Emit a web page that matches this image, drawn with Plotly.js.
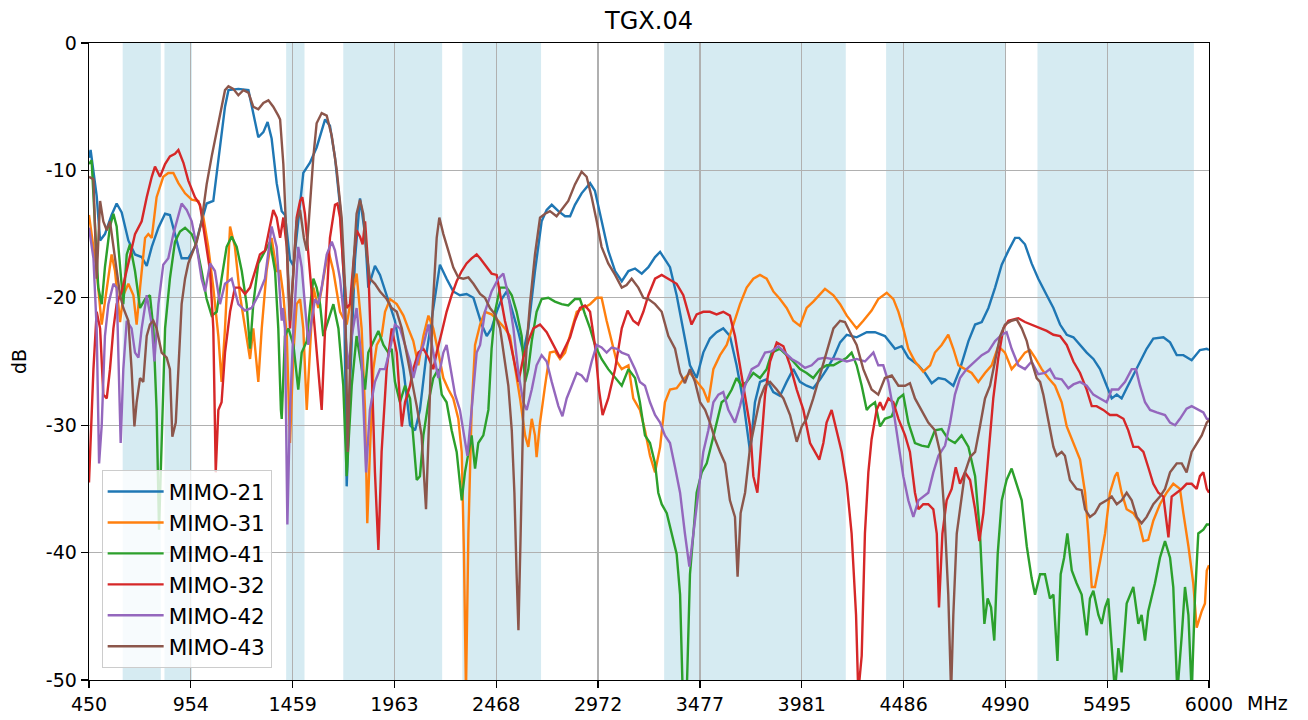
<!DOCTYPE html>
<html><head><meta charset="utf-8">
<script src="https://cdn.plot.ly/plotly-3.0.1.min.js"></script>
<style>html,body{margin:0;padding:0;background:#fff}#chart{width:1308px;height:720px}</style>
</head><body><div id="chart"></div>
<script>
const seriesNames = ["MIMO-21","MIMO-31","MIMO-41","MIMO-32","MIMO-42","MIMO-43"];
const seriesColors = ["#1f77b4","#ff7f0e","#2ca02c","#d62728","#9467bd","#8c564b"];
const bandStartMHz = [617,824,1427,1710,2300,3300,4400,5150];
const bandEndMHz = [806,960,1518,2200,2690,4200,4990,5925];
const xTickVals = [450,954.5,1459.1,1963.6,2468.2,2972.7,3477.3,3981.8,4486.4,4990.9,5495.5,6000];
const xTickText = ["450","954","1459","1963","2468","2972","3477","3981","4486","4990","5495","6000"];
const yTickVals = [0,-10,-20,-30,-40,-50];
const yTickText = ["0","-10","-20","-30","-40","-50"];

// MIMO-21
const f21 = [450,458,488,505,529,562,587,612,645,678,
711,736,761,794,827,851,876,909,942,975,
1008,1033,1066,1091,1124,1141,1190,1240,1264,1289,
1314,1335,1355,1380,1405,1421,1446,1463,1487,1512,
1545,1578,1620,1644,1669,1694,1714,1727,1743,1768,
1793,1818,1834,1867,1892,1925,1966,2008,2041,2066,
2090,2123,2156,2189,2222,2255,2288,2321,2355,2396,
2421,2445,2470,2495,2520,2545,2578,2602,2627,2660,
2693,2718,2743,2776,2809,2834,2858,2891,2933,2957,
2990,3023,3057,3090,3123,3156,3189,3222,3255,3280,
3313,3329,3362,3395,3428,3461,3494,3527,3560,3593,
3626,3659,3693,3726,3750,3775,3808,3841,3874,3907,
3940,3973,4006,4039,4073,4106,4139,4172,4205,4254,
4304,4345,4394,4444,4477,4510,4560,4593,4626,4659,
4692,4733,4766,4808,4841,4874,4907,4940,4973,5006,
5039,5059,5088,5121,5154,5196,5229,5262,5295,5328,
5361,5394,5427,5460,5493,5518,5543,5567,5592,5625,
5658,5691,5724,5774,5807,5840,5873,5914,5955,5989,
6000];
const db21 = [-9.0,-8.4,-12,-15.5,-15,-13.5,-12.6,-13.3,-15.5,-16.6,
-16.8,-17.5,-16,-14.5,-13.4,-13.5,-15,-16.9,-16.9,-16,
-14,-12.6,-12.4,-9,-5,-3.7,-3.6,-3.7,-5.5,-7.4,
-7,-6.2,-7.5,-11,-13.2,-13.5,-17,-17.5,-14,-10.2,
-9.4,-8.2,-6,-6.5,-9,-12.8,-19,-34.8,-27,-17,
-12.2,-15,-19.2,-17.5,-18.2,-19.8,-21.8,-25.6,-30,-30.4,
-28.8,-24.3,-20.8,-17.4,-18.5,-19.5,-19.8,-19.7,-20,-22.1,
-23,-22.4,-21.1,-20.1,-19.5,-20.8,-22.7,-24.3,-22.4,-17.9,
-14,-13.1,-12.7,-13.2,-13.6,-13.6,-12.7,-11.8,-11,-11.6,
-14,-16.3,-17.9,-18.7,-17.9,-17.7,-18.1,-17.6,-16.8,-16.4,
-17.2,-17.6,-19.8,-22.7,-25.3,-26.3,-24.3,-23.2,-22.7,-22.4,
-23,-25.3,-28.2,-32.1,-28.2,-26.6,-26.4,-27.4,-27.7,-26.6,
-25.6,-26.6,-26.9,-27.1,-26.4,-25.6,-24.7,-23.5,-22.9,-23.1,
-22.7,-22.7,-23,-24,-23.8,-24.7,-25.3,-25.9,-26.7,-26.3,
-26.4,-26.9,-25.6,-23.4,-22.1,-21.9,-20.8,-19.2,-17.4,-16.3,
-15.3,-15.3,-15.8,-17.3,-18.5,-19.8,-20.8,-22.1,-22.9,-23.1,
-23.7,-24.3,-24.8,-25.6,-26.9,-27.9,-27.6,-27.9,-27.1,-26.1,
-25,-24,-23.2,-23.1,-23.5,-24.5,-24.5,-24.9,-24.1,-24,
-24.1];

// MIMO-31
const f31 = [450,488,513,538,562,579,604,620,645,670,
686,703,728,744,761,785,818,843,868,893,
926,959,992,1017,1041,1066,1091,1107,1124,1149,
1173,1198,1223,1248,1264,1289,1306,1330,1355,1380,
1397,1413,1430,1446,1463,1479,1496,1512,1529,1545,
1562,1586,1611,1636,1661,1694,1727,1752,1776,1801,
1818,1829,1842,1859,1876,1900,1917,1942,1975,2008,
2032,2057,2082,2107,2132,2156,2181,2206,2231,2255,
2280,2297,2308,2318,2330,2346,2363,2388,2412,2445,
2478,2511,2536,2561,2586,2611,2627,2644,2660,2668,
2685,2710,2734,2759,2784,2809,2842,2867,2900,2933,
2966,2990,3015,3040,3065,3090,3123,3147,3180,3205,
3230,3255,3280,3304,3329,3362,3395,3428,3461,3494,
3519,3544,3577,3610,3643,3676,3709,3742,3775,3808,
3841,3874,3907,3940,3973,4006,4039,4073,4097,4139,
4172,4205,4254,4287,4328,4361,4403,4436,4461,4485,
4510,4543,4584,4618,4642,4675,4708,4733,4758,4791,
4824,4857,4890,4923,4956,4989,5022,5055,5088,5113,
5138,5171,5204,5237,5270,5295,5328,5361,5386,5402,
5419,5435,5460,5485,5509,5534,5546,5567,5592,5625,
5650,5675,5699,5724,5757,5790,5823,5856,5873,5898,
5922,5939,5964,5980,5989,6000];
const db31 = [-13.5,-17.9,-22.1,-19.2,-16.6,-17.9,-21.9,-19.8,-18.9,-19.8,
-22.1,-19.2,-15.3,-15,-15.3,-12.1,-10.5,-10.2,-10.2,-11,
-11.8,-12.3,-12.4,-13.7,-16,-19.2,-23,-26.6,-22.4,-14.4,
-16,-19.8,-22.4,-24.8,-22.4,-26.6,-22.4,-17.9,-15.3,-17.9,
-17.9,-19.8,-23,-31.4,-24.3,-20.5,-20.1,-22.4,-28.8,-24.3,
-19.2,-20.8,-18.5,-16.3,-17.9,-21.1,-22.1,-19.8,-18.1,-22.4,
-28.8,-37.7,-32.1,-25.6,-23.7,-23.0,-21.1,-20.1,-20.5,-21.4,
-22.4,-23.4,-25.3,-23.0,-21.4,-22.4,-24.3,-26.3,-27.2,-27.9,
-29.5,-32.1,-40.1,-51,-38.5,-28.8,-23.7,-22.1,-21.1,-21.3,
-21.8,-22.4,-23.0,-25.3,-27.9,-30.8,-31.7,-29.5,-30.8,-32.5,
-29.8,-26.9,-24.3,-24.2,-24.8,-24.3,-22.4,-21.1,-20.8,-20.5,
-20,-20,-21.8,-23.4,-25,-25.6,-25.3,-27.9,-28.8,-30.4,
-32.4,-33.7,-31.7,-28.2,-27.2,-27.1,-26.4,-25.9,-26.6,-27.2,
-28.2,-25.6,-24.5,-23.7,-22.1,-20.5,-19.2,-18.5,-18.2,-18.5,
-19.5,-20.1,-20.8,-21.8,-22.2,-20.8,-20.3,-19.7,-19.3,-19.8,
-20.5,-21.4,-22.4,-21.8,-21,-20.1,-19.6,-20.1,-21.1,-22.4,
-24,-25,-25.8,-25.3,-24.3,-23.7,-22.9,-24,-25.3,-25.6,
-25.9,-26.6,-25.9,-25.3,-23.8,-24.3,-25.6,-25,-24.3,-24.1,
-24.7,-25.6,-26.3,-26.9,-28.2,-30.1,-31.4,-32.7,-35.3,-38.5,
-42.7,-42.7,-40.7,-38.5,-35.3,-34,-33.7,-35.3,-36.6,-36.9,
-37.5,-39.1,-39,-37.5,-36.2,-35.3,-34.6,-35,-36.9,-39.5,
-42.4,-45.9,-44.6,-44,-41.4,-41];

// MIMO-41
const f41 = [450,463,480,496,513,529,554,571,587,604,
620,637,653,678,703,728,752,769,785,797,
810,827,851,876,901,926,959,984,1008,1033,
1058,1083,1107,1132,1157,1182,1207,1231,1248,1264,
1289,1322,1347,1372,1388,1401,1405,1421,1438,1463,
1487,1504,1529,1545,1562,1578,1595,1611,1636,1661,
1686,1710,1727,1752,1776,1801,1818,1834,1859,1884,
1909,1933,1950,1966,1991,2016,2041,2057,2074,2090,
2107,2132,2156,2181,2198,2222,2247,2272,2297,2313,
2330,2346,2363,2379,2404,2429,2445,2462,2487,2520,
2545,2569,2594,2611,2627,2644,2668,2693,2726,2759,
2792,2825,2858,2883,2908,2933,2957,2990,3023,3057,
3090,3123,3156,3180,3205,3230,3255,3271,3288,3313,
3337,3362,3379,3392,3412,3428,3445,3461,3486,3511,
3536,3560,3585,3610,3635,3659,3684,3709,3742,3775,
3808,3833,3874,3907,3940,3973,4006,4039,4073,4106,
4139,4172,4205,4229,4254,4279,4304,4320,4345,4370,
4394,4428,4461,4485,4510,4543,4576,4609,4642,4675,
4708,4741,4774,4808,4841,4865,4887,4903,4920,4936,
4953,4973,4997,5022,5047,5072,5097,5121,5138,5163,
5187,5212,5229,5249,5265,5282,5298,5320,5344,5369,
5394,5410,5427,5452,5468,5485,5501,5518,5534,5551,
5567,5592,5625,5650,5666,5683,5699,5732,5757,5782,
5807,5823,5843,5865,5881,5898,5914,5931,5947,5972,
5989,6000];
const db41 = [-9.5,-9.2,-14.4,-19.2,-20.5,-17.6,-14.4,-13.4,-14.4,-17.9,
-20.5,-16.6,-15.8,-17.9,-20.8,-20.1,-19.8,-22.4,-28.8,-38.2,
-32.1,-22.4,-18.5,-15.6,-14.8,-14.5,-15,-16,-17.9,-20.1,
-21.4,-21.1,-18.5,-16,-15.2,-16,-17.9,-20.5,-24,-20.5,
-17.3,-16.3,-15.6,-17.9,-22.4,-28.8,-29.5,-23,-22.4,-23.7,
-27.2,-24.3,-23.4,-20.8,-18.5,-19.2,-20.5,-23.0,-21.8,-20.5,
-22.4,-26.9,-34,-26.9,-23.0,-25.6,-27.2,-24.3,-23.4,-22.6,
-23.7,-24.3,-24,-26.6,-28.2,-26.9,-27.9,-30.8,-34.3,-34,
-30.8,-28.2,-26.3,-25.6,-27.6,-28.2,-30.4,-32.1,-35.9,-33.7,
-32.1,-30.8,-33.4,-31.4,-30.8,-28.8,-24,-21.1,-19.2,-19.2,
-19.8,-21.1,-23,-26.6,-25.6,-23.4,-21.1,-20.1,-20,-20.3,
-20.5,-20.6,-20.1,-20.1,-21.3,-22.4,-23.7,-24.8,-25.6,-26.3,
-26.9,-25.6,-26.3,-28.2,-30.8,-31.4,-33,-35.3,-36.2,-36.9,
-38.5,-40.1,-43.3,-51,-51,-41.7,-38.5,-35.3,-33.7,-33,
-31.4,-29.8,-28.2,-27.9,-27.2,-26.3,-26.9,-26.6,-25.9,-26.3,
-25.6,-24.3,-24,-24.5,-25,-25.6,-25.9,-26.3,-25.6,-25.3,
-25.3,-25,-24.7,-24.3,-25.3,-26.9,-28.8,-28.5,-28.2,-30.1,
-29.5,-29.3,-27.9,-27.6,-29.8,-31.4,-31.6,-31.7,-30.4,-30.3,
-31.1,-31.4,-30.8,-31.7,-34,-38.5,-45.6,-43.6,-44.3,-46.9,
-40.1,-35.9,-34.3,-33.4,-34.6,-35.9,-39.5,-42,-43.3,-41.7,
-41.7,-43.6,-43.3,-48.5,-41.7,-40.4,-38.5,-41.4,-42.4,-43.3,
-46.5,-43.6,-43,-44.9,-45.6,-44.3,-43.6,-47.5,-51,-47.5,
-49.4,-44,-42.7,-45.6,-44.9,-46.9,-44.6,-42.4,-40.4,-39.1,
-40.4,-42.7,-51,-46.5,-42.7,-44.9,-51,-43.3,-38.5,-38.2,
-37.8,-37.8];

// MIMO-32
const f32 = [450,472,488,505,521,538,554,571,587,612,
645,678,711,736,761,777,802,827,851,876,
893,918,942,975,1000,1025,1050,1066,1078,1091,
1107,1124,1149,1173,1198,1223,1248,1273,1297,1322,
1347,1363,1380,1397,1413,1430,1446,1463,1479,1496,
1507,1520,1537,1553,1570,1586,1603,1620,1644,1669,
1681,1694,1710,1727,1743,1760,1776,1793,1806,1818,
1834,1851,1867,1884,1900,1925,1950,1975,2000,2016,
2041,2057,2082,2107,2132,2156,2173,2198,2222,2247,
2272,2297,2321,2346,2371,2388,2412,2445,2470,2487,
2511,2536,2561,2578,2602,2627,2652,2685,2718,2751,
2784,2809,2834,2858,2883,2908,2933,2957,2977,2995,
3023,3057,3090,3119,3147,3172,3197,3222,3255,3288,
3321,3362,3395,3420,3436,3461,3494,3527,3560,3593,
3626,3651,3676,3701,3726,3742,3762,3778,3800,3825,
3858,3891,3924,3957,3990,4023,4048,4069,4089,4105,
4130,4155,4180,4205,4229,4251,4262,4279,4295,4312,
4328,4353,4370,4386,4411,4436,4461,4494,4518,4543,
4560,4584,4609,4634,4651,4662,4679,4700,4725,4745,
4766,4791,4816,4841,4862,4882,4907,4931,4956,4981,
5006,5055,5088,5121,5163,5196,5229,5262,5295,5328,
5361,5394,5419,5443,5476,5509,5543,5576,5600,5625,
5650,5675,5699,5724,5749,5774,5799,5815,5840,5865,
5889,5914,5939,5955,5972,5989,6000];
const db32 = [-34.5,-25.6,-21.1,-22.4,-27.6,-27.9,-25.6,-22.4,-20.5,-19.5,
-17.3,-15,-14,-12.1,-10.5,-9.7,-10.5,-9.5,-8.9,-8.7,
-8.4,-9.4,-10.8,-12.1,-12.7,-15.3,-17.9,-22.4,-33.7,-28.8,
-28.2,-24.3,-21.1,-19.2,-19.2,-19.7,-19.2,-17.9,-16.6,-16.3,
-14.4,-13.1,-13.7,-15.3,-13.7,-16,-22.4,-17.9,-13.7,-12.4,
-12.1,-13.4,-16.6,-19.8,-22.4,-25.6,-28.8,-22.4,-15.3,-12.7,
-12.6,-13.7,-17.6,-20.8,-20.5,-17.3,-14.7,-15.2,-15.8,-14.0,
-17.6,-25.6,-33.7,-39.8,-32.1,-25.6,-22.4,-24.3,-30.1,-28.2,
-26.9,-25.6,-24.3,-24,-24.7,-25.6,-24.3,-22.7,-21.1,-19.8,
-18.7,-17.9,-17.3,-16.9,-16.6,-16.9,-17.4,-18.1,-18.2,-19.8,
-21.8,-23.4,-25.3,-26.6,-24.7,-23.4,-22.4,-22.1,-22.7,-23.7,
-24.7,-23.9,-23.1,-21.8,-20.8,-20.6,-21.1,-23.7,-27.2,-29.2,
-27.9,-25.6,-22.4,-21,-21.8,-22.1,-21.1,-19.8,-18.5,-18.2,
-18.5,-18.9,-19.8,-21.1,-22.1,-21.3,-21.1,-21.1,-21.3,-21.1,
-21.4,-23.0,-25.3,-27.6,-30.1,-34,-35.3,-32.1,-27.6,-25,
-23.5,-23.8,-25.3,-27.2,-28.8,-31.4,-32.1,-32.7,-31.4,-29.8,
-28.8,-30.4,-32.1,-34.6,-38.5,-44.9,-51,-48.1,-38.5,-33.7,
-31.1,-28.8,-28.2,-28.8,-27.9,-28.2,-29.5,-30.8,-32.1,-35.3,
-36.6,-36.2,-36.2,-36.6,-38.5,-44.3,-38.5,-35.9,-35,-33.3,
-34.6,-33.7,-34.3,-36.6,-39.1,-36.9,-32.1,-27.9,-24.7,-22.4,
-21.8,-21.6,-21.9,-22.1,-22.4,-22.6,-22.9,-23.0,-23.7,-25,
-25.9,-27.2,-28.5,-28.5,-28.8,-29.2,-29.2,-29.5,-30.4,-31.7,
-31.7,-32.1,-33.3,-34.6,-35.3,-35.6,-38.8,-35.6,-35.3,-35,
-34.6,-34.6,-35,-34,-33.7,-35,-35.3];

// MIMO-42
const f42 = [450,472,488,500,513,529,546,571,587,595,
607,620,637,661,678,695,711,736,761,774,
794,818,843,868,893,909,934,959,984,1008,
1025,1050,1074,1099,1124,1157,1190,1223,1256,1289,
1322,1355,1380,1405,1410,1421,1433,1446,1463,1487,
1504,1520,1537,1553,1570,1586,1603,1628,1653,1669,
1694,1719,1735,1752,1776,1801,1823,1842,1867,1892,
1917,1942,1966,1991,2016,2041,2057,2082,2107,2132,
2156,2181,2206,2222,2239,2264,2288,2313,2325,2346,
2371,2388,2412,2445,2478,2503,2528,2553,2578,2602,
2619,2644,2668,2693,2718,2743,2776,2796,2817,2842,
2867,2891,2916,2941,2966,2990,3015,3040,3065,3090,
3123,3156,3180,3205,3230,3255,3280,3304,3329,3354,
3379,3403,3425,3445,3470,3494,3519,3544,3569,3593,
3618,3651,3676,3701,3734,3767,3800,3833,3866,3899,
3932,3965,3998,4031,4064,4097,4130,4163,4205,4254,
4295,4337,4361,4386,4411,4436,4461,4485,4510,4535,
4560,4584,4609,4634,4659,4692,4717,4741,4766,4799,
4841,4874,4907,4940,4973,4997,5022,5055,5088,5121,
5154,5187,5212,5237,5270,5303,5328,5361,5394,5427,
5460,5493,5518,5551,5584,5617,5638,5658,5683,5708,
5741,5782,5807,5832,5856,5889,5914,5947,5972,5989,
6000];
const db42 = [-14.5,-16.9,-22.4,-33,-30,-23,-20.5,-18.9,-19.2,-24,
-31.4,-25.6,-21.8,-22.4,-24.3,-24.7,-22.4,-19.8,-22.1,-25,
-20.5,-17.4,-16.9,-15,-13.4,-12.6,-13.1,-14,-16,-18.5,
-19.5,-17.3,-17.9,-20.5,-18.9,-18.5,-20.5,-21,-20.8,-19.8,
-18.5,-14.4,-16,-21.8,-20.8,-22.4,-37.8,-28.8,-22.4,-16,
-17.6,-20.8,-23.7,-21.8,-20.1,-20.5,-19.2,-16.6,-15.6,-16.3,
-18.5,-22.4,-25.6,-23.0,-20.8,-25,-33.7,-28.8,-26.6,-25.6,
-25.6,-24,-22.1,-22.4,-23.7,-25,-26.3,-24.7,-23.7,-22.1,
-24.3,-26.3,-24.3,-23.7,-25.3,-27.6,-28.8,-31.4,-32.4,-28.8,
-24.3,-23.7,-21.1,-19.5,-18.5,-18.1,-19.8,-22.4,-25.9,-28.2,
-28.8,-27.2,-25.3,-24.5,-25,-26.6,-28.5,-29.3,-27.9,-26.9,
-25.9,-26.1,-26.6,-25,-23.7,-23.9,-24.3,-23.9,-24,-24.3,
-24.5,-25.6,-26.6,-26.9,-28.2,-29.2,-29.8,-30.8,-31.4,-33.3,
-35.3,-38.5,-41.1,-38.5,-35.3,-32.1,-30.4,-28.2,-27.6,-27.4,
-28.8,-29.8,-28.5,-26.9,-25.6,-25.3,-24.3,-24.2,-23.8,-24.3,
-24.8,-25.1,-25.5,-25.3,-24.8,-24.7,-24.8,-24.8,-25,-24.8,
-25,-24.3,-25.3,-25.3,-26.6,-28.8,-31.4,-34,-35.9,-37.2,
-35.9,-35.6,-35.3,-33.7,-32.4,-31.6,-29.8,-27.6,-26.3,-25.6,
-25,-24.5,-24.2,-23.4,-22.9,-22.7,-24,-25.3,-25.6,-25,
-26,-25.9,-25.6,-26.3,-26.4,-27.1,-26.8,-26.6,-26.9,-27.6,
-27.9,-28.2,-27.2,-27.2,-26.6,-25.6,-25.6,-26.9,-28.2,-28.8,
-29,-29.2,-29.8,-30,-29.5,-28.7,-28.5,-28.8,-29,-29.5,
-29.5];

// MIMO-43
const f43 = [450,472,488,505,521,538,554,571,587,604,
620,645,661,675,686,703,719,736,752,769,
785,810,835,851,863,880,893,909,926,942,
959,984,1008,1033,1058,1083,1107,1124,1141,1165,
1190,1215,1240,1264,1289,1314,1339,1363,1388,1397,
1413,1430,1446,1463,1479,1496,1515,1529,1545,1562,
1578,1603,1628,1653,1677,1702,1719,1732,1743,1760,
1776,1793,1809,1826,1842,1867,1892,1925,1950,1975,
2000,2024,2049,2074,2098,2120,2137,2153,2173,2186,
2206,2231,2255,2280,2305,2330,2355,2388,2412,2437,
2462,2487,2511,2528,2545,2558,2569,2578,2589,2602,
2619,2635,2660,2685,2710,2734,2767,2792,2825,2858,
2891,2916,2941,2966,2990,3023,3057,3090,3114,3139,
3172,3197,3222,3255,3288,3321,3354,3379,3403,3428,
3453,3478,3503,3527,3552,3577,3602,3626,3651,3664,
3679,3701,3726,3750,3775,3800,3825,3858,3891,3924,
3957,3982,4006,4039,4073,4106,4139,4172,4196,4221,
4254,4287,4328,4361,4394,4428,4461,4494,4518,4543,
4576,4609,4642,4667,4689,4708,4722,4733,4750,4774,
4791,4816,4841,4865,4890,4915,4940,4965,4989,5022,
5047,5072,5097,5121,5146,5163,5179,5204,5229,5245,
5270,5286,5311,5344,5369,5386,5410,5435,5460,5493,
5518,5543,5567,5592,5617,5642,5666,5691,5724,5757,
5782,5807,5840,5865,5889,5914,5939,5964,5989,6000];
const db43 = [-10.5,-10.7,-18.5,-12.4,-14,-14.7,-14,-16,-18.2,-19.8,
-20.8,-21.8,-25.6,-30.1,-28.2,-26.3,-26.6,-23,-22.1,-21.8,
-22.4,-24.3,-24.7,-25.6,-30.9,-29.8,-25.6,-20.5,-18.5,-17.3,
-16.6,-15.6,-14,-11.1,-8.9,-6.9,-5,-3.7,-3.4,-3.6,
-4.1,-3.7,-3.9,-5,-5.2,-4.7,-4.5,-5,-5.7,-6,
-9.5,-16,-21.8,-17.9,-14,-13.1,-15.3,-16.3,-12.7,-8.9,
-6.3,-5.5,-5.7,-7.3,-9.9,-13.7,-19.2,-32.1,-25.6,-17.6,
-13.4,-12.3,-13.4,-16.6,-18.5,-18.9,-19.5,-20.1,-20.8,-21.1,
-22.4,-24.3,-26.3,-28.5,-30.8,-36.6,-28.8,-20.8,-15.3,-13.7,
-15,-16.3,-17.6,-18.4,-18.5,-18.4,-18.9,-19.7,-20,-20.8,
-21.3,-22.4,-25,-26.9,-30.4,-35.3,-41.7,-46.1,-38.5,-28.8,
-23.7,-20.5,-16.6,-13.7,-13.4,-13.2,-13.6,-13.1,-12.4,-11.1,
-10.1,-10.5,-12.1,-14,-16,-17.3,-18.2,-19.2,-19,-18.5,
-19.2,-20,-20.1,-20.5,-21.1,-23,-24,-25.9,-26.7,-25.6,
-26.6,-28.2,-28.8,-29.8,-31.1,-32.1,-33,-35.9,-37.2,-41.9,
-36.9,-35.3,-31.7,-29.8,-27.9,-26.9,-26.6,-27.2,-27.9,-29.2,
-31.3,-30.1,-29.5,-27.9,-26,-24.3,-22.4,-21.8,-21.9,-22.7,
-23.7,-25.6,-27.2,-27.6,-26.3,-26.1,-26.9,-26.9,-26.7,-27.9,
-28.8,-29.8,-30.4,-32.1,-36.9,-43.3,-51,-44.9,-38.5,-35.9,
-33.7,-32.5,-32.1,-30.1,-27.9,-26.9,-25,-23.0,-22.1,-21.8,
-21.7,-22.4,-23.4,-25,-26.3,-26.6,-27.6,-29.8,-31.7,-32.4,
-32.1,-32.4,-34.3,-35,-35.1,-36.6,-37.2,-36.9,-36.2,-35.9,
-35.6,-36.2,-35.9,-35.3,-35.9,-37.2,-37.7,-37.2,-36.2,-35.6,
-35,-33.7,-33,-33,-33.7,-32.1,-31.4,-30.8,-29.8,-29.6];

const seriesF = [f21, f31, f41, f32, f42, f43];
const seriesDb = [db21, db31, db41, db32, db42, db43];

const traces = seriesNames.map((name, i) => ({
  type: 'scatter', mode: 'lines', name: name,
  x: seriesF[i], y: seriesDb[i],
  legendgroup: name,
  line: {color: seriesColors[i], width: 2.4},
  hoverinfo: 'skip'
}));

const shapes = bandStartMHz.map((s, i) => ({
  type: 'rect', xref: 'x', yref: 'paper', x0: s, x1: bandEndMHz[i], y0: 0, y1: 1,
  fillcolor: 'rgba(173,216,230,0.5)', line: {width: 0}, layer: 'below'
}));

const FONT = 'DejaVu Sans, Liberation Sans, sans-serif';

const layout = {
  width: 1308, height: 720,
  margin: {l: 89, r: 99, t: 43, b: 40, pad: 0},
  paper_bgcolor: '#ffffff', plot_bgcolor: '#ffffff',
  font: {family: FONT, size: 19, color: '#000000'},
  title: {text: 'TGX.04', font: {family: FONT, size: 24, color: '#000000'},
          x: 0.5, xref: 'paper', xanchor: 'center', y: 0.972, yref: 'container', yanchor: 'middle'},
  showlegend: true,
  legend: {
    x: 0.0113, y: 0.0188, xanchor: 'left', yanchor: 'bottom',
    bgcolor: 'rgba(255,255,255,0.8)', bordercolor: '#cccccc', borderwidth: 1,
    font: {family: FONT, size: 21.5, color: '#000000'},
    tracegroupgap: 8, itemwidth: 56, traceorder: 'normal'
  },
  xaxis: {
    range: [450, 6000], autorange: false,
    tickmode: 'array', tickvals: xTickVals, ticktext: xTickText,
    ticks: 'outside', ticklen: 7, tickwidth: 1.3, tickcolor: '#000000',
    showline: true, mirror: true, linecolor: '#000000', linewidth: 1.3,
    showgrid: true, gridcolor: '#b0b0b0', gridwidth: 1.2, zeroline: false,
    tickfont: {family: FONT, size: 19, color: '#000000'},
    automargin: false
  },
  yaxis: {
    range: [-50, 0], autorange: false,
    tickmode: 'array', tickvals: yTickVals, ticktext: yTickText,
    ticks: 'outside', ticklen: 7, tickwidth: 1.3, tickcolor: '#000000',
    showline: true, mirror: true, linecolor: '#000000', linewidth: 1.3,
    showgrid: true, gridcolor: '#b0b0b0', gridwidth: 1.2, zeroline: false,
    tickfont: {family: FONT, size: 19, color: '#000000'},
    title: {text: 'dB', font: {family: FONT, size: 19, color: '#000000'}, standoff: 14},
    automargin: false
  },
  shapes: shapes,
  annotations: [{
    text: 'MHz', xref: 'paper', yref: 'paper', x: 1.0321, y: -0.0361,
    xanchor: 'left', yanchor: 'middle', showarrow: false,
    font: {family: FONT, size: 19, color: '#000000'}
  }]
};

Plotly.newPlot('chart', traces, layout, {staticPlot: true, displayModeBar: false});
</script>
</body></html>
